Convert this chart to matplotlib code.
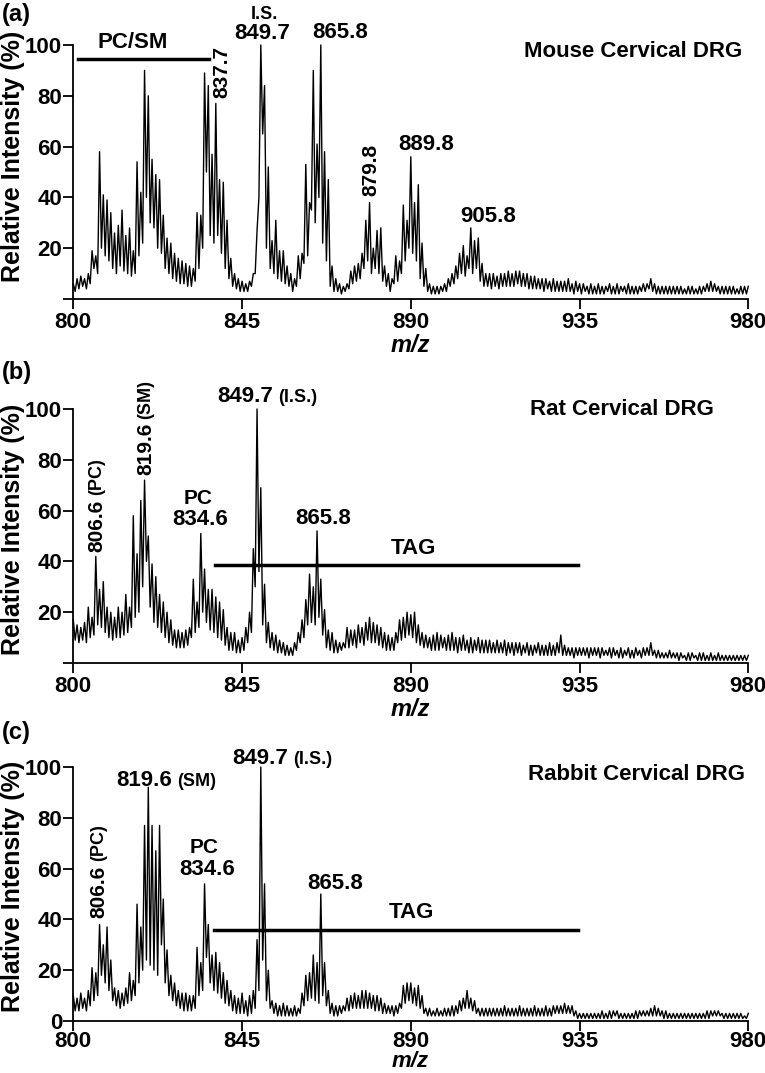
import numpy as np
import matplotlib.pyplot as plt

plt.rcParams['font.family'] = ['Liberation Sans', 'DejaVu Sans']
plt.rcParams['font.weight'] = 'bold'

# m/z grid: local maxima at integer m/z, minima half-way between
mz_tops = np.arange(800, 981)
mz_bottoms = np.arange(800.5, 980)
x_ticks = [800, 845, 890, 935, 980]
y_ticks = [0, 20, 40, 60, 80, 100]

# (a) mouse
mouse_tops = [6, 8, 9, 8, 10, 19, 17, 58, 41, 39,
              34, 26, 29, 35, 25, 28, 19, 54, 42, 90,
              80, 55, 49, 47, 33, 24, 22, 18, 16, 15,
              14, 13, 12, 34, 33, 89, 84, 57, 77, 47,
              46, 31, 16, 10, 8, 7, 6, 7, 10, 27,
              100, 84, 52, 23, 31, 19, 19, 13, 10, 8,
              17, 18, 53, 38, 90, 61, 100, 58, 47, 13,
              8, 6, 5, 6, 11, 13, 14, 18, 31, 38,
              20, 27, 28, 13, 10, 8, 17, 15, 37, 31,
              56, 38, 45, 22, 12, 6, 5, 5, 5, 6,
              8, 10, 13, 18, 21, 17, 28, 23, 24, 14,
              10, 10, 10, 9, 10, 10, 11, 10, 11, 11,
              10, 10, 9, 9, 8, 8, 8, 7, 8, 7,
              7, 7, 8, 6, 7, 6, 6, 5, 6, 5,
              6, 5, 5, 6, 5, 6, 5, 5, 6, 5,
              5, 5, 6, 6, 8, 6, 5, 5, 5, 5,
              5, 5, 5, 4, 5, 5, 4, 5, 5, 6,
              7, 6, 5, 5, 5, 5, 5, 4, 5, 5,
              5]
mouse_bottoms = [3, 4, 5, 4, 6, 12, 10, 20, 17, 15,
                 12, 10, 13, 11, 10, 9, 10, 17, 22, 40,
                 30, 28, 20, 18, 12, 10, 8, 7, 6, 6,
                 5, 5, 7, 12, 20, 50, 25, 22, 25, 18,
                 12, 8, 5, 4, 3, 3, 3, 5, 10, 40,
                 65, 20, 12, 10, 8, 7, 6, 5, 3, 5,
                 8, 14, 17, 35, 30, 40, 22, 15, 5, 3,
                 3, 2, 3, 4, 6, 7, 8, 12, 15, 10,
                 12, 10, 7, 5, 3, 6, 7, 10, 15, 20,
                 18, 15, 8, 5, 3, 2, 2, 2, 3, 3,
                 5, 6, 8, 10, 9, 12, 10, 12, 7, 5,
                 5, 4, 5, 4, 5, 5, 5, 5, 6, 5,
                 5, 4, 4, 4, 4, 3, 4, 3, 3, 3,
                 3, 3, 3, 2, 3, 2, 3, 2, 2, 2,
                 2, 2, 3, 2, 2, 2, 3, 2, 2, 2,
                 2, 3, 3, 4, 3, 2, 2, 2, 2, 2,
                 2, 2, 2, 2, 2, 2, 2, 2, 3, 3,
                 3, 3, 2, 2, 2, 2, 2, 2, 2, 2]

# (b) rat
rat_tops = [17, 15, 14, 16, 22, 18, 42, 29, 32, 22,
            20, 18, 22, 20, 27, 22, 58, 43, 64, 72,
            50, 39, 34, 27, 24, 20, 17, 13, 13, 12,
            13, 14, 33, 24, 51, 37, 29, 29, 26, 24,
            21, 14, 12, 12, 9, 10, 14, 20, 45, 100,
            69, 31, 16, 12, 11, 9, 8, 7, 6, 8,
            12, 17, 25, 35, 30, 52, 33, 21, 13, 12,
            9, 8, 8, 14, 13, 13, 15, 14, 16, 18,
            16, 15, 14, 12, 11, 10, 12, 17, 18, 20,
            19, 20, 15, 12, 11, 10, 11, 12, 11, 10,
            11, 12, 10, 10, 11, 9, 10, 9, 10, 9,
            9, 9, 8, 9, 8, 9, 8, 8, 8, 8,
            7, 8, 7, 7, 8, 7, 7, 8, 7, 8,
            11, 7, 6, 6, 6, 6, 6, 6, 6, 6,
            6, 6, 5, 6, 6, 5, 6, 5, 6, 5,
            6, 5, 6, 6, 8, 5, 5, 4, 4, 5,
            4, 4, 4, 3, 4, 4, 3, 4, 4, 3,
            4, 3, 4, 3, 3, 3, 3, 3, 3, 3,
            3]
rat_bottoms = [9, 8, 9, 8, 10, 11, 15, 14, 12, 10,
               9, 10, 10, 11, 12, 14, 18, 20, 30, 40,
               22, 16, 14, 12, 10, 8, 7, 6, 6, 6,
               7, 10, 12, 14, 20, 16, 13, 12, 10, 9,
               7, 5, 5, 4, 4, 5, 8, 12, 30, 36,
               15, 8, 6, 5, 4, 4, 3, 3, 3, 5,
               8, 10, 15, 16, 15, 18, 11, 6, 5, 4,
               4, 5, 6, 6, 7, 6, 8, 7, 9, 8,
               8, 7, 6, 5, 5, 5, 8, 9, 10, 11,
               10, 8, 7, 6, 6, 5, 5, 5, 6, 5,
               5, 5, 4, 5, 5, 4, 4, 5, 4, 4,
               4, 4, 4, 4, 4, 3, 4, 3, 4, 3,
               4, 3, 3, 4, 3, 3, 3, 3, 3, 4,
               3, 3, 3, 2, 3, 3, 3, 2, 3, 3,
               2, 3, 3, 2, 3, 2, 2, 3, 2, 2,
               3, 2, 3, 3, 3, 2, 2, 2, 2, 2,
               2, 1, 2, 1, 1, 2, 1, 1, 1, 1,
               1, 1, 1, 1, 1, 1, 1, 1, 1, 1]

# (c) rabbit
rabbit_tops = [10, 9, 11, 9, 12, 21, 19, 38, 30, 37,
               24, 13, 12, 11, 13, 19, 16, 46, 37, 77,
               92, 77, 67, 77, 48, 28, 18, 15, 12, 11,
               11, 10, 10, 29, 23, 54, 38, 26, 27, 23,
               19, 16, 12, 10, 9, 11, 8, 10, 12, 32,
               100, 54, 20, 8, 7, 6, 7, 6, 5, 6,
               5, 11, 18, 19, 26, 23, 50, 23, 12, 7,
               6, 6, 6, 9, 10, 11, 10, 12, 12, 11,
               10, 10, 9, 7, 6, 6, 6, 7, 14, 15,
               15, 13, 14, 10, 5, 5, 4, 5, 4, 5,
               5, 6, 6, 8, 9, 12, 9, 8, 5, 5,
               5, 5, 5, 5, 5, 6, 5, 5, 5, 6,
               5, 5, 5, 6, 5, 5, 6, 5, 6, 6,
               6, 7, 6, 6, 4, 3, 3, 3, 3, 3,
               3, 4, 3, 4, 4, 4, 3, 3, 3, 3,
               4, 4, 4, 4, 5, 6, 5, 4, 4, 3,
               3, 3, 3, 3, 3, 3, 3, 3, 3, 4,
               4, 4, 4, 3, 3, 3, 3, 3, 3, 2,
               3]
rabbit_bottoms = [4, 4, 5, 4, 6, 8, 10, 18, 15, 12,
                  8, 6, 5, 6, 7, 8, 10, 15, 20, 24,
                  22, 20, 18, 30, 15, 10, 8, 6, 5, 4,
                  4, 4, 5, 10, 12, 25, 15, 12, 11, 9,
                  7, 6, 4, 3, 3, 3, 2, 3, 5, 12,
                  24, 8, 5, 3, 2, 2, 2, 2, 2, 2,
                  3, 6, 8, 9, 8, 7, 10, 6, 3, 2,
                  2, 3, 4, 4, 5, 5, 5, 5, 5, 5,
                  4, 4, 3, 3, 3, 2, 3, 5, 7, 8,
                  7, 6, 5, 3, 2, 2, 2, 2, 2, 2,
                  2, 2, 3, 4, 5, 5, 4, 3, 2, 2,
                  2, 2, 2, 2, 2, 2, 2, 2, 2, 2,
                  2, 2, 2, 2, 2, 2, 2, 2, 3, 3,
                  3, 3, 3, 2, 1, 1, 1, 1, 1, 1,
                  1, 1, 1, 1, 2, 1, 1, 1, 1, 1,
                  1, 2, 2, 2, 2, 2, 2, 1, 1, 1,
                  1, 1, 1, 1, 1, 1, 1, 1, 1, 1,
                  2, 2, 2, 1, 1, 1, 1, 1, 1, 1]


def interleave(tops, bottoms):
    out = np.empty(len(tops) + len(bottoms))
    out[0::2] = tops
    out[1::2] = bottoms
    return out


mz = interleave(mz_tops, mz_bottoms)

W, H = 765, 1073
fig = plt.figure(figsize=(W / 100, H / 100), dpi=100)

# axes boxes in pixels: left, zero line, top (100)
boxes = [(73.3, 299, 45), (73.3, 663, 409), (73.3, 1021, 767)]
spectra = [(mouse_tops, mouse_bottoms), (rat_tops, rat_bottoms),
           (rabbit_tops, rabbit_bottoms)]
axes = []
for i, ((l, y0, y1), (t, b)) in enumerate(zip(boxes, spectra)):
    ax = fig.add_axes([l / W, 1 - y0 / H, 675 / W, (y0 - y1) / H])
    ax.plot(mz, interleave(t, b), color='black', lw=1.0, clip_on=False)
    ax.set_xlim(800, 980)
    ax.set_ylim(0, 100)
    ax.spines[['top', 'right']].set_visible(False)
    ax.spines[['left', 'bottom']].set_linewidth(1.3)
    ax.set_xticks(x_ticks)
    ax.set_yticks(y_ticks)
    ylabels = [str(v) for v in y_ticks]
    if i < 2:
        ylabels[0] = ''
    ax.set_yticklabels(ylabels)
    ax.tick_params(axis='both', direction='out', length=7, width=1.3,
                   labelsize=16)
    ax.tick_params(axis='x', pad=2 if i < 2 else 0.5)
    ax.tick_params(axis='y', pad=1)
    axes.append(ax)

# panel letters, y labels, x labels
for letter, yc in zip(['(a)', '(b)', '(c)'], [15, 373, 732]):
    fig.text(2 / W, 1 - yc / H, letter, fontsize=17, va='center', ha='left')
for yc in [156, 529, 886]:
    fig.text(13 / W, 1 - yc / H, 'Relative Intensity (%)', fontsize=18,
             rotation=90, ha='center', va='center')
for yc in [346, 709]:
    fig.text(410 / W, 1 - yc / H, 'm/z', fontsize=17, style='italic',
             ha='center', va='center')
fig.text(410 / W, 1 / H, 'm/z', fontsize=16, style='italic',
         ha='center', va='bottom')

ax_a, ax_b, ax_c = axes
kw = dict(ha='center', va='center', fontsize=16)

# (a)
ax_a.text(815.9, 100.8, 'PC/SM', **kw)
ax_a.plot([801.3, 836.2], [94.4, 94.4], color='black', lw=2.5, clip_on=False)
ax_a.text(839.7, 89.4, '837.7', rotation=90, ha='center', va='center', fontsize=15)
ax_a.text(850.9, 112, 'I.S.', ha='center', va='center', fontsize=13)
ax_a.text(850.3, 104.7, '849.7', **kw)
ax_a.text(871.1, 105, '865.8', **kw)
ax_a.text(879.3, 51, '879.8', rotation=90, ha='center', va='center', fontsize=15)
ax_a.text(894.2, 61, '889.8', **kw)
ax_a.text(910.7, 32.4, '905.8', **kw)
ax_a.text(949.3, 97.4, 'Mouse Cervical DRG', **kw)

# (b)
ax_b.text(806.2, 43.8, '806.6', rotation=90, ha='center', va='bottom', fontsize=15)
ax_b.text(806.2, 66.0, '(PC)', rotation=90, ha='center', va='bottom', fontsize=13)
ax_b.text(819.3, 74, '819.6', rotation=90, ha='center', va='bottom', fontsize=15)
ax_b.text(819.3, 96.2, '(SM)', rotation=90, ha='center', va='bottom', fontsize=13)
ax_b.text(833.2, 64.6, 'PC', ha='center', va='center', fontsize=15)
ax_b.text(833.8, 56.3, '834.6', **kw)
ax_b.text(853.3, 102.9, '849.7', ha='right', va='baseline', fontsize=16)
ax_b.text(854.6, 102.9, '(I.S.)', ha='left', va='baseline', fontsize=13)
ax_b.text(866.6, 57, '865.8', **kw)
ax_b.plot([837.8, 934.7], [38.6, 38.6], color='black', lw=2.5)
ax_b.text(890.7, 45, 'TAG', **kw)
ax_b.text(946.2, 99.9, 'Rat Cervical DRG', **kw)

# (c)
ax_c.text(806.7, 40.6, '806.6', rotation=90, ha='center', va='bottom', fontsize=15)
ax_c.text(806.7, 62.8, '(PC)', rotation=90, ha='center', va='bottom', fontsize=13)
ax_c.text(826.4, 92.5, '819.6', ha='right', va='baseline', fontsize=16)
ax_c.text(827.7, 92.5, '(SM)', ha='left', va='baseline', fontsize=13)
ax_c.text(834.9, 68.4, 'PC', ha='center', va='center', fontsize=15)
ax_c.text(835.8, 59.8, '834.6', **kw)
ax_c.text(857.3, 101.2, '849.7', ha='right', va='baseline', fontsize=16)
ax_c.text(858.6, 101.2, '(I.S.)', ha='left', va='baseline', fontsize=13)
ax_c.text(869.8, 54.2, '865.8', **kw)
ax_c.plot([837.6, 934.7], [35.8, 35.8], color='black', lw=2.5)
ax_c.text(890.2, 42.6, 'TAG', **kw)
ax_c.text(950.2, 97.2, 'Rabbit Cervical DRG', **kw)

fig.savefig('out.png', dpi=100)
